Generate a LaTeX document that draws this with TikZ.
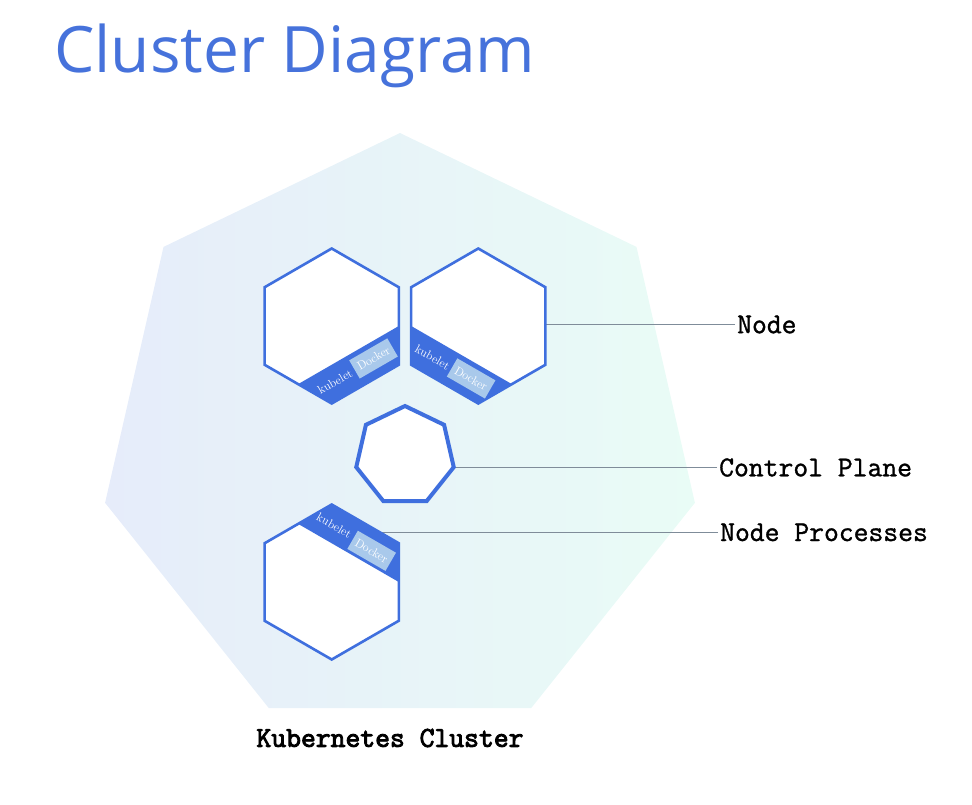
\documentclass[tikz,border=0pt]{standalone}
\usepackage{fontspec}
\newfontfamily\titlefont{Open Sans}
\newfontfamily\calloutfont{Latin Modern Mono}[FakeBold=1.2]
\newfontfamily\clusterfont{Latin Modern Mono}[FakeBold=3.2]
\usetikzlibrary{shapes.geometric, calc}

\definecolor{kubeblue}{HTML}{3F6FDE}
\definecolor{titleblue}{HTML}{4672DB}
\definecolor{dockerblue}{HTML}{A9C9EB}
\definecolor{leadergray}{HTML}{7F8C99}
\definecolor{clusterleft}{HTML}{E6ECFA}
\definecolor{clusterright}{HTML}{E9FCF6}

\begin{document}
\begin{tikzpicture}[
    x=1pt, y=1pt,
    cluster/.style = {regular polygon, regular polygon sides=7, minimum size=605, inner sep=0, left color=clusterleft, right color=clusterright},
    worker/.style = {regular polygon, regular polygon sides=6, shape border rotate=30, minimum size=155, inner sep=0, draw=kubeblue, line width=2.6, fill=white},
    control/.style = {regular polygon, regular polygon sides=7, minimum size=100, inner sep=0, draw=kubeblue, line width=4, fill=white},
    band/.style = {fill=kubeblue},
    proc/.style = {text=white, font=\fontsize{12}{14}\selectfont, inner sep=0},
    docker/.style = {proc, fill=dockerblue, minimum width=44, minimum height=21},
    callout/.style = {anchor=west, inner sep=2pt, font=\calloutfont\fontsize{28.8}{32}\selectfont},
    leader/.style = {draw=leadergray, line width=1.1}
]
    \useasboundingbox (0,0) rectangle (972,-804);

    % Cluster and title
    \node [cluster] (k8s) at (400,-435.5) {};
    \node [anchor=base west, inner sep=0, text=titleblue, font=\titlefont\fontsize{64}{70}\selectfont] (title) at (54,-72) {Cluster Diagram};
    \node [font=\clusterfont\fontsize{28.8}{32}\selectfont] (clusterlbl) at (390,-738) {Kubernetes Cluster};

    % Centres
    \coordinate (w1) at (331.7,-326);
    \coordinate (w2) at (478.3,-326);
    \coordinate (w3) at (331.7,-582);
    \coordinate (cp) at (405,-456);

    % Callouts
    \node [callout] (nodelbl) at (735,-324.5) {Node};
    \node [callout] (cplbl) at (717,-467.5) {Control Plane};
    \node [callout] (proclbl) at (718,-532.3) {Node Processes};
    \draw [leader] (nodelbl.west) -- (nodelbl.west -| w2);
    \draw [leader] (cplbl.west) -- (cplbl.west -| cp);
    \draw [leader] (proclbl.west) -- (proclbl.west -| w3);

    % Nodes
    \node [worker] (node1) at (w1) {};
    \node [worker] (node2) at (w2) {};
    \node [worker] (node3) at (w3) {};
    \node [control] (plane) at (cp) {};

    % Node processes
    \fill [band, shift={(w1)}] (0:67.1) -- (-30:77.5) -- (-90:77.5) -- (-120:67.1) -- cycle;
    \fill [band, shift={(w2)}] (180:67.1) -- (-150:77.5) -- (-90:77.5) -- (-60:67.1) -- cycle;
    \fill [band, shift={(w3)}] (120:67.1) -- (90:77.5) -- (30:77.5) -- (0:67.1) -- cycle;

    \node [proc, rotate=30] (kubelet1) at ($(w1)+(-60:50)+(30:-25)$) {kubelet};
    \node [docker, rotate=30] (docker1) at ($(w1)+(-60:49)+(30:20)$) {Docker};
    \node [proc, rotate=-30] (kubelet2) at ($(w2)+(-120:50)+(-30:-24)$) {kubelet};
    \node [docker, rotate=-30] (docker2) at ($(w2)+(-120:49)+(-30:20)$) {Docker};
    \node [proc, rotate=-30] (kubelet3) at ($(w3)+(60:50)+(-30:-26)$) {kubelet};
    \node [docker, rotate=-30] (docker3) at ($(w3)+(60:47)+(-30:19)$) {Docker};

\end{tikzpicture}
\end{document}
